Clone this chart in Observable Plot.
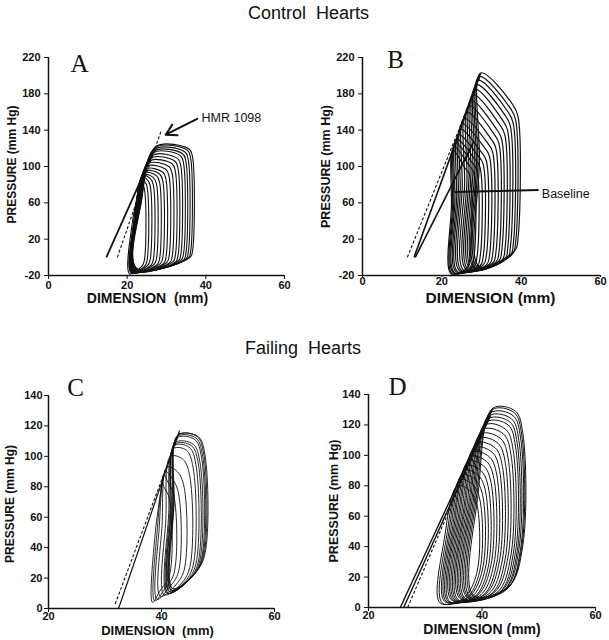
<!DOCTYPE html>
<html><head><meta charset="utf-8">
<script src="https://cdn.jsdelivr.net/npm/d3@7"></script>
<script src="https://cdn.jsdelivr.net/npm/@observablehq/plot@0.6"></script>
<style>
body{margin:0;background:#fff;}
#fig{position:relative;width:609px;height:640px;background:#fff;font-family:Arial,"Liberation Sans",sans-serif;overflow:hidden;}
.title{position:absolute;font-size:18px;line-height:18px;color:#111;white-space:pre;}
.panel{position:absolute;}
</style></head><body>
<div id="fig">
  <div class="title" style="left:248px;top:4px;">Control  Hearts</div>
  <div class="title" style="left:245px;top:339px;">Failing  Hearts</div>
</div>
<script>
// ---------- Tick labels ----------
const ctrlYTicks = [-20, 20, 60, 100, 140, 180, 220];
const ctrlXTicks = [0, 20, 40, 60];
const failYTicks = [0, 20, 40, 60, 80, 100, 120, 140];
const failXTicks = [20, 40, 60];

// ---------- Panel A (control, HMR 1098) : loops outer -> inner ----------
const aEdd  = [36.6, 36.1, 35.5, 34.9, 34.3, 33.6, 32.9, 32.2, 31.4, 30.6, 29.8, 29.0, 28.2, 27.4, 26.6, 25.8, 25.0, 24.3];
const aEsd  = [27.3, 27.2, 27.0, 26.8, 26.6, 26.3, 26.0, 25.6, 25.3, 25.0, 24.7, 24.5, 24.3, 24.1, 24.0, 23.9, 23.8, 23.6];
const aEsp  = [122, 121, 119, 117, 115, 112, 109, 106, 103, 100, 97, 95, 93, 91, 90, 89, 88, 86];
const aPrt  = [119, 118, 116, 114, 112, 109, 106, 103, 100, 97, 94, 92, 90, 88, 87, 86, 85, 83];
const aLx   = [22.4, 22.3, 22.2, 22.1, 22.0, 22.0, 21.9, 21.8, 21.8, 21.7, 21.6, 21.5, 21.4, 21.3, 21.2, 21.1, 21.0, 20.6];
const aPmin = [-12, -12, -13, -13, -13, -14, -14, -14, -15, -15, -15, -16, -16, -16, -17, -17, -17, -18];
const aEdp  = [0, -1, -2, -3, -3, -4, -5, -5, -6, -6, -7, -7, -8, -8, -9, -9, -10, -10];
const aLineX1 = [14.7, 17.5], aLineY1 = [0, 0], aLineX2 = [27.3, 28.7], aLineY2 = [122, 140], aLineDash = [false, true];

// ---------- Panel B (control, baseline) ----------
const bEdd  = [39.2, 38.6, 38.0, 37.3, 36.6, 35.9, 35.1, 34.4, 33.6, 32.8, 32.0, 31.2, 30.4, 29.6, 28.8, 28.0, 27.0];
const bEsd  = [29.8, 29.4, 29.1, 28.7, 28.3, 27.8, 27.3, 26.8, 26.2, 25.6, 25.1, 24.7, 24.2, 23.7, 23.4, 23.1, 22.8];
const bEsp  = [203, 199, 195, 190, 185, 179, 173, 167, 160, 153, 147, 141, 135, 130, 126, 122, 118];
const bPrt  = [168, 164, 160, 156, 151, 146, 141, 136, 131, 126, 121, 116, 112, 108, 105, 102, 99];
const bLx   = [29.4, 29.0, 28.6, 28.2, 27.7, 27.2, 26.7, 26.2, 25.6, 25.0, 24.5, 24.0, 23.6, 23.2, 22.9, 22.6, 22.3];
const bPmin = [-10, -11, -12, -12, -13, -13, -14, -14, -15, -15, -15, -16, -16, -17, -17, -18, -18];
const bEdp  = [8, 4, 2, 0, -2, -3, -4, -5, -6, -7, -8, -8, -9, -10, -10, -11, -12];
const bLineX1 = [11.3, 13.0, 13.3], bLineY1 = [0, 0, 0], bLineX2 = [29.7, 29.8, 28.0], bLineY2 = [199, 203, 127], bLineDash = [true, false, false];

// ---------- Panel C (failing, HMR 1098) ----------
const cEdd  = [47.7, 47.5, 47.3, 47.1, 46.8, 46.5, 46.1, 45.6, 45.0, 44.0, 43.0, 42.2, 41.4];
const cEsd  = [42.9, 42.9, 42.8, 42.7, 42.4, 42.4, 42.3, 42.1, 41.6, 41.0, 40.7, 40.5, 40.3];
const cEsp  = [114, 114, 113, 112, 109, 108, 107, 105, 100, 93, 90, 88, 86];
const cPrt  = [113, 113, 112, 111, 108, 107, 106, 104, 98, 90, 86, 84, 82];
const cLx   = [42.0, 41.9, 41.8, 41.7, 41.5, 41.4, 41.2, 41.0, 40.5, 39.8, 39.2, 38.8, 38.4];
const cPmin = [13, 13, 12, 12, 11, 11, 10, 10, 9, 8, 6, 5, 4];
const cEdp  = [24, 23, 22, 21, 20, 19, 18, 17, 16, 15, 14, 13, 12];
const cLineX1 = [31.8, 32.4], cLineY1 = [3, 0], cLineX2 = [43.2, 43.2], cLineY2 = [116, 117], cLineDash = [true, false];

// ---------- Panel D (failing, baseline) ----------
const dEdd  = [47.2, 47.0, 46.8, 46.5, 46.2, 45.9, 45.5, 45.1, 44.6, 44.1, 43.6, 43.1, 42.6, 42.1, 41.6, 41.1, 40.6, 40.1, 39.6, 39.1];
const dEsd  = [41.9, 41.8, 41.5, 41.3, 41.1, 40.8, 40.6, 40.2, 39.8, 39.5, 39.1, 38.7, 38.4, 38.0, 37.6, 37.3, 36.9, 36.5, 36.2, 35.7];
const dEsp  = [131, 130, 128, 126, 124, 122, 120, 117, 114, 111, 108, 105, 102, 99, 96, 93, 90, 87, 84, 80];
const dPrt  = [129, 128, 126, 124, 122, 120, 117, 114, 111, 108, 105, 102, 99, 96, 93, 90, 87, 84, 81, 77];
const dLx   = [38.5, 38.2, 37.9, 37.6, 37.3, 37.0, 36.7, 36.4, 36.1, 35.8, 35.5, 35.2, 34.9, 34.6, 34.3, 34.0, 33.7, 33.4, 33.0, 32.6];
const dPmin = [8, 8, 7, 7, 7, 6, 6, 6, 6, 5, 5, 5, 5, 5, 4, 4, 4, 4, 3, 3];
const dEdp  = [14, 13, 12, 12, 11, 11, 10, 10, 10, 9, 9, 9, 8, 8, 8, 7, 7, 7, 6, 6];
const dLineX1 = [25.6, 26.2, 26.9], dLineY1 = [0, 0, 0], dLineX2 = [41.9, 41.5, 41.8], dLineY2 = [131, 126, 130], dLineDash = [false, false, true];

// ---------- Annotations ----------
const hmrLabel = "HMR 1098", hmrX = 38.9, hmrY = 153, hmrArrow = [37.8, 152.5, 29.8, 135];
const baseLabel = "Baseline", baseX = 45.2, baseY = 70, baseLine = [23.2, 72, 44.4, 74];

const FONT = "Arial, 'Liberation Sans', sans-serif";

function buildLoops(p, corner) {
  const rows = [];
  for (let i = 0; i < p.edd.length; i++) {
    const edd = p.edd[i], esd = p.esd[i], esp = p.esp[i], prt = p.prt[i], lx = p.lx[i], pmin = p.pmin[i], edp = p.edp[i];
    const H = esp - pmin;
    const pts = [
      [lx, pmin],
      [edd - corner.brx, edp],
      [edd, edp + corner.bry * H],
      [edd, prt - corner.try * H],
      [edd - corner.trx, prt],
      [esd, esp],
      [lx + 0.25 * (esd - lx), pmin + 0.55 * H]
    ];
    pts.forEach(([x, y], k) => rows.push({loop: i, k, x, y}));
  }
  return rows;
}

function buildLines(x1, y1, x2, y2, dash) {
  return x1.map((v, i) => ({x1: v, y1: y1[i], x2: x2[i], y2: y2[i], dash: dash[i]}));
}

function makePanel(o) {
  const loops = buildLoops(o.loops, o.corner);
  const lines = buildLines(...o.lines);
  const marks = [
    Plot.ruleX([o.xDomain[0]], {y1: o.yDomain[0], y2: o.yDomain[1], stroke: "#111", strokeWidth: 1.5}),
    Plot.ruleY([o.yDomain[0]], {x1: o.xDomain[0], x2: o.xDomain[1], stroke: "#111", strokeWidth: 1.5}),
    Plot.line(loops, {x: "x", y: "y", z: "loop", curve: "catmull-rom-closed", stroke: "#111", strokeWidth: o.loopWidth}),
    Plot.link(lines.filter(d => !d.dash), {x1: "x1", y1: "y1", x2: "x2", y2: "y2", stroke: "#111", strokeWidth: o.lineWidth}),
    Plot.link(lines.filter(d => d.dash), {x1: "x1", y1: "y1", x2: "x2", y2: "y2", stroke: "#111", strokeWidth: 1.1, strokeDasharray: "3,2"}),
    Plot.axisX({ticks: o.xTicks, tickSize: o.xTickSize, tickPadding: o.xTickPad, tickFormat: d => String(d), label: null, fontSize: 11, fontWeight: "bold", stroke: "#111"}),
    Plot.axisY({ticks: o.yTicks, tickSize: 4, tickPadding: o.yTickPad, tickFormat: d => String(d), label: null, fontSize: 11, fontWeight: "bold", stroke: "#111"}),
    Plot.text([o.letter], {frameAnchor: "top-left", dx: o.letterDx, dy: o.letterDy, textAnchor: "middle", lineAnchor: "middle", fontSize: 25, fontFamily: "'Liberation Serif', 'Times New Roman', serif", fontWeight: "normal", fill: "#111"}),
    Plot.text([o.xLabel], {frameAnchor: "bottom", dx: o.xLabelDx, dy: o.xLabelDy, textAnchor: "middle", lineAnchor: "middle", fontSize: o.xLabelSize, fontWeight: "bold", fill: "#111"}),
    Plot.text([o.yLabel], {frameAnchor: "left", dx: o.yLabelDx, dy: o.yLabelDy, rotate: -90, textAnchor: "middle", lineAnchor: "middle", fontSize: o.yLabelSize, fontWeight: "bold", fill: "#111"})
  ];
  if (o.extra) marks.push(...o.extra);
  const chart = Plot.plot({
    width: o.width, height: o.height,
    marginLeft: o.margin[3], marginRight: o.margin[1], marginTop: o.margin[0], marginBottom: o.margin[2],
    x: {domain: o.xDomain},
    y: {domain: o.yDomain},
    style: {fontFamily: FONT, fontSize: "11px", background: "transparent", color: "#111", overflow: "visible"},
    marks
  });
  const wrap = document.createElement("div");
  wrap.className = "panel";
  wrap.style.left = o.left + "px";
  wrap.style.top = o.top + "px";
  wrap.appendChild(chart);
  document.getElementById("fig").appendChild(wrap);
}

const yLab = "PRESSURE (mm Hg)";

makePanel({
  left: 0, top: 40, width: 300, height: 272, margin: [17, 16, 37, 48],
  xDomain: [0, 60], yDomain: [-20, 220], xTicks: ctrlXTicks, yTicks: ctrlYTicks,
  xTickSize: 4, xTickPad: 2, yTickPad: 4,
  loops: {edd: aEdd, esd: aEsd, esp: aEsp, prt: aPrt, lx: aLx, pmin: aPmin, edp: aEdp},
  corner: {brx: 0.6, bry: 0.05, try: 0.06, trx: 0.8},
  lines: [aLineX1, aLineY1, aLineX2, aLineY2, aLineDash],
  loopWidth: 1.1, lineWidth: 1.8,
  letter: "A", letterDx: 31, letterDy: 6,
  xLabel: "DIMENSION\u00a0 (mm)", xLabelDx: -19, xLabelDy: 23, xLabelSize: 14,
  yLabel: yLab, yLabelDx: -36, yLabelDy: -2, yLabelSize: 12,
  extra: [
    Plot.arrow([hmrArrow], {x1: d => d[0], y1: d => d[1], x2: d => d[2], y2: d => d[3], stroke: "#111", strokeWidth: 2, headLength: 10}),
    Plot.text([hmrLabel], {x: hmrX, y: hmrY, textAnchor: "start", fontSize: 12.5, fill: "#111"})
  ]
});

makePanel({
  left: 300, top: 40, width: 309, height: 272, margin: [17, 9, 37, 62],
  xDomain: [0, 60], yDomain: [-20, 220], xTicks: ctrlXTicks, yTicks: ctrlYTicks,
  xTickSize: 2, xTickPad: 0, yTickPad: 4,
  loops: {edd: bEdd, esd: bEsd, esp: bEsp, prt: bPrt, lx: bLx, pmin: bPmin, edp: bEdp},
  corner: {brx: 0.7, bry: 0.06, try: 0.06, trx: 1.3},
  lines: [bLineX1, bLineY1, bLineX2, bLineY2, bLineDash],
  loopWidth: 1.2, lineWidth: 1.6,
  letter: "B", letterDx: 33, letterDy: 2,
  xLabel: "DIMENSION (mm)", xLabelDx: 9, xLabelDy: 23, xLabelSize: 15.5,
  yLabel: yLab, yLabelDx: -37, yLabelDy: 0, yLabelSize: 12.5,
  extra: [
    Plot.link([baseLine], {x1: d => d[0], y1: d => d[1], x2: d => d[2], y2: d => d[3], stroke: "#111", strokeWidth: 2}),
    Plot.text([baseLabel], {x: baseX, y: baseY, textAnchor: "start", fontSize: 12.5, fill: "#111"})
  ]
});

makePanel({
  left: 0, top: 360, width: 300, height: 280, margin: [35, 26, 32, 48],
  xDomain: [20, 60], yDomain: [0, 140], xTicks: failXTicks, yTicks: failYTicks,
  xTickSize: 4, xTickPad: 0, yTickPad: 2,
  loops: {edd: cEdd, esd: cEsd, esp: cEsp, prt: cPrt, lx: cLx, pmin: cPmin, edp: cEdp},
  corner: {brx: 1.6, bry: 0.12, try: 0.12, trx: 1.2},
  lines: [cLineX1, cLineY1, cLineX2, cLineY2, cLineDash],
  loopWidth: 0.9, lineWidth: 1.2,
  letter: "C", letterDx: 27, letterDy: -8,
  xLabel: "DIMENSION\u00a0 (mm)", xLabelDx: -4, xLabelDy: 22, xLabelSize: 13,
  yLabel: yLab, yLabelDx: -38, yLabelDy: 2, yLabelSize: 12
});

makePanel({
  left: 300, top: 360, width: 309, height: 280, margin: [34, 14, 33, 68],
  xDomain: [20, 60], yDomain: [0, 140], xTicks: failXTicks, yTicks: failYTicks,
  xTickSize: 4, xTickPad: 0, yTickPad: 4,
  loops: {edd: dEdd, esd: dEsd, esp: dEsp, prt: dPrt, lx: dLx, pmin: dPmin, edp: dEdp},
  corner: {brx: 2.4, bry: 0.22, try: 0.12, trx: 1.3},
  lines: [dLineX1, dLineY1, dLineX2, dLineY2, dLineDash],
  loopWidth: 1.0, lineWidth: 1.4,
  letter: "D", letterDx: 29, letterDy: -8,
  xLabel: "DIMENSION (mm)", xLabelDx: 0, xLabelDy: 22, xLabelSize: 14,
  yLabel: yLab, yLabelDx: -35, yLabelDy: 0, yLabelSize: 12.5
});
</script>
</body></html>
